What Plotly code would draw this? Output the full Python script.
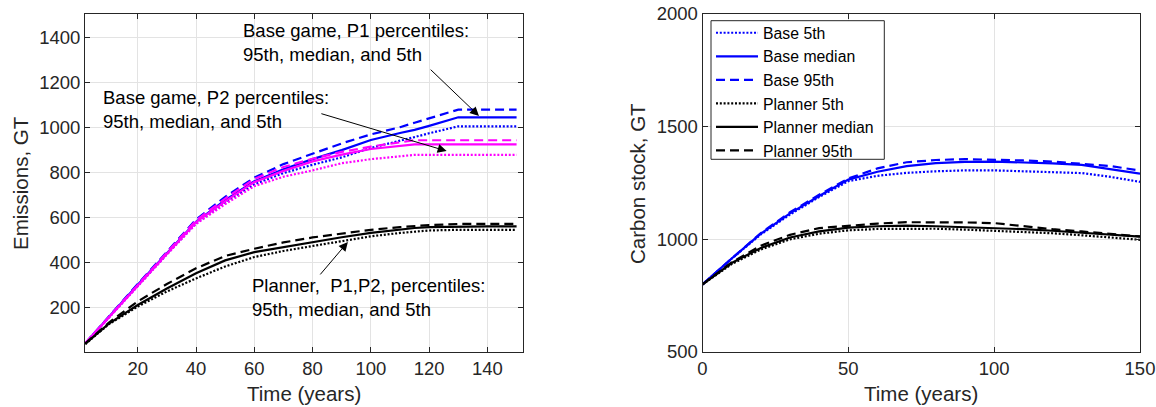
import plotly.graph_objects as go

# ---------------- data ----------------
# Left panel: emissions (GT) vs time (years)
t_em = [2, 10, 20, 30, 40, 50, 60, 70, 80, 90, 100, 110, 115, 120, 130, 140, 150]

p1_5th = [42, 156, 298, 438, 575, 668, 748, 798, 835, 868, 910, 940, 958, 975, 1006, 1006, 1006]
p1_med = [42, 158, 302, 442, 582, 678, 762, 815, 860, 900, 945, 976, 990, 1008, 1046, 1046, 1046]
p1_95th = [42, 160, 305, 448, 592, 692, 778, 838, 885, 930, 970, 1002, 1022, 1042, 1080, 1080, 1080]

p2_5th = [42, 155, 298, 436, 572, 660, 740, 782, 810, 842, 860, 872, 879, 879, 879, 879, 879]
p2_med = [42, 156, 300, 440, 580, 672, 758, 808, 850, 880, 905, 920, 926, 926, 926, 926, 926]
p2_95th = [42, 158, 302, 445, 588, 685, 772, 825, 862, 892, 916, 936, 944, 944, 944, 944, 944]

pl_5th = [38, 126, 205, 272, 330, 383, 425, 452, 474, 496, 517, 532, 538, 543, 546, 546, 546]
pl_med = [40, 128, 212, 285, 353, 410, 447, 470, 492, 513, 532, 548, 554, 558, 561, 561, 561]
pl_95th = [40, 133, 228, 305, 375, 430, 462, 490, 512, 530, 546, 558, 563, 567, 572, 572, 572]

# Right panel: carbon stock (GT) vs time (years)
t_cs = [0, 10, 20, 30, 40, 50, 60, 70, 80, 90, 100, 110, 120, 130, 140, 150]

cs_base_5th = [800, 914, 1022, 1110, 1188, 1258, 1282, 1295, 1302, 1306, 1306, 1303, 1300, 1294, 1277, 1255]
cs_base_med = [800, 915, 1025, 1115, 1192, 1265, 1300, 1325, 1338, 1344, 1345, 1342, 1337, 1330, 1310, 1292]
cs_base_95th = [800, 916, 1028, 1120, 1198, 1270, 1315, 1342, 1352, 1356, 1354, 1350, 1345, 1335, 1325, 1305]

cs_pl_5th = [800, 890, 955, 1000, 1025, 1040, 1046, 1048, 1047, 1043, 1038, 1033, 1027, 1018, 1008, 998]
cs_pl_med = [800, 895, 962, 1008, 1035, 1052, 1058, 1061, 1058, 1054, 1050, 1045, 1038, 1030, 1022, 1012]
cs_pl_95th = [800, 898, 972, 1020, 1050, 1060, 1070, 1076, 1077, 1075, 1072, 1058, 1045, 1035, 1025, 1013]

legend_names = ["Base 5th", "Base median", "Base 95th", "Planner 5th", "Planner median", "Planner 95th"]

left_xticks = [20, 40, 60, 80, 100, 120, 140]
left_yticks = [200, 400, 600, 800, 1000, 1200, 1400]
right_xticks = [0, 50, 100, 150]
right_yticks = [500, 1000, 1500, 2000]

# ---------------- style ----------------
FONT = "Liberation Sans, Arial, Helvetica, sans-serif"
BLUE = "#0000FF"
MAG = "#FF00FF"
BLK = "#000000"
DOT = "2px,1.8px"
DASH = "9px,5px"
LW = 2.2
AXC = "#262626"
GRID = "#e3e3e3"

fig = go.Figure()

def add(x, y, color, dash, xa, ya, name=None, show=False):
    fig.add_trace(go.Scatter(
        x=x, y=y, mode="lines", name=name, showlegend=show,
        line=dict(color=color, dash=dash, width=LW),
        xaxis=xa, yaxis=ya, hoverinfo="skip"))

# Left panel
for ys, c in [((p1_5th, p1_med, p1_95th), BLUE), ((p2_5th, p2_med, p2_95th), MAG),
              ((pl_5th, pl_med, pl_95th), BLK)]:
    for y, d in zip(ys, [DOT, "solid", DASH]):
        add(t_em, y, c, d, "x", "y")

# Right panel
right_series = [(cs_base_5th, BLUE, DOT), (cs_base_med, BLUE, "solid"), (cs_base_95th, BLUE, DASH),
                (cs_pl_5th, BLK, DOT), (cs_pl_med, BLK, "solid"), (cs_pl_95th, BLK, DASH)]
for i, (y, c, d) in enumerate(right_series):
    add(t_cs, y, c, d, "x2", "y2", name=legend_names[i], show=True)

W, H = 1156, 407
L1, R1 = 85, 522.7
L2, R2 = 702.5, 1140
TOP, BOT = 14, 352

axis_common = dict(
    showline=True, linecolor=AXC, linewidth=1, mirror="ticks",
    ticks="inside", ticklen=5, tickcolor=AXC, tickwidth=1,
    showgrid=True, gridcolor=GRID, gridwidth=1, zeroline=False,
    automargin=False,
    tickfont=dict(family=FONT, size=18.5, color=AXC),
)

fig.update_layout(
    template="none",
    width=W, height=H,
    margin=dict(l=0, r=0, t=0, b=0, pad=0),
    paper_bgcolor="white", plot_bgcolor="white",
    font=dict(family=FONT, color=AXC),
    xaxis=dict(domain=[L1 / W, R1 / W], range=[1.9, 152.1], tickvals=left_xticks, anchor="y",
               **axis_common),
    yaxis=dict(domain=[1 - BOT / H, 1 - TOP / H], range=[3, 1505], tickvals=left_yticks, anchor="x",
               **axis_common),
    xaxis2=dict(domain=[L2 / W, R2 / W], range=[0, 150], tickvals=right_xticks, anchor="y2",
                **axis_common),
    yaxis2=dict(domain=[1 - BOT / H, 1 - TOP / H], range=[500, 2000], tickvals=right_yticks, anchor="x2",
                **axis_common),
    legend=dict(
        x=711 / W, y=1 - 16 / H, xanchor="left", yanchor="top",
        bgcolor="rgba(0,0,0,0)", borderwidth=0,
        font=dict(family=FONT, size=15.8, color=BLK),
        tracegroupgap=0, itemwidth=42,
    ),
    showlegend=True,
    shapes=[dict(type="rect", xref="paper", yref="paper",
                 x0=711 / W, x1=884.3 / W, y0=1 - 159.3 / H, y1=1 - 20.7 / H,
                 fillcolor="white", line=dict(color=AXC, width=1), layer="above")],
)

ann = []
# axis titles
tt = dict(family=FONT, size=20.5, color=AXC)
ann.append(dict(text="Time (years)", xref="paper", yref="paper", x=(L1 + R1) / 2 / W, y=1 - 393 / H,
                showarrow=False, font=tt, xanchor="center", yanchor="middle"))
ann.append(dict(text="Time (years)", xref="paper", yref="paper", x=(L2 + R2) / 2 / W, y=1 - 393 / H,
                showarrow=False, font=tt, xanchor="center", yanchor="middle"))
ann.append(dict(text="Emissions, GT", xref="paper", yref="paper", x=20 / W, y=1 - 183 / H, textangle=-90,
                showarrow=False, font=tt, xanchor="center", yanchor="middle"))
ann.append(dict(text="Carbon stock, GT", xref="paper", yref="paper", x=637 / W, y=1 - 183 / H, textangle=-90,
                showarrow=False, font=tt, xanchor="center", yanchor="middle"))

tfont = dict(family=FONT, size=18.5, color=BLK)
# text labels
ann.append(dict(text="Base game, P1 percentiles:<br>95th, median, and 5th", xref="x", yref="y",
                x=55.3, y=1378, xanchor="left", yanchor="middle", align="left", showarrow=False, font=tfont))
ann.append(dict(text="Base game, P2 percentiles:<br>95th, median, and 5th", xref="x", yref="y",
                x=7.5, y=1080, xanchor="left", yanchor="middle", align="left", showarrow=False, font=tfont))
ann.append(dict(text="Planner,\u00a0 P1,P2, percentiles:<br>95th, median, and 5th", xref="x", yref="y",
                x=58.5, y=243, xanchor="left", yanchor="middle", align="left", showarrow=False, font=tfont))
# arrows
for (tx, ty, hx, hy) in [(120.0, 1264, 137.1, 1052), (82.5, 1064, 126.0, 896), (82.2, 341, 92.1, 492)]:
    ann.append(dict(x=hx, y=hy, ax=tx, ay=ty, xref="x", yref="y", axref="x", ayref="y",
                    showarrow=True, arrowhead=2, arrowsize=1.8, arrowwidth=1, arrowcolor=BLK, text=""))
fig.update_layout(annotations=ann)

fig.write_html("out.html")
